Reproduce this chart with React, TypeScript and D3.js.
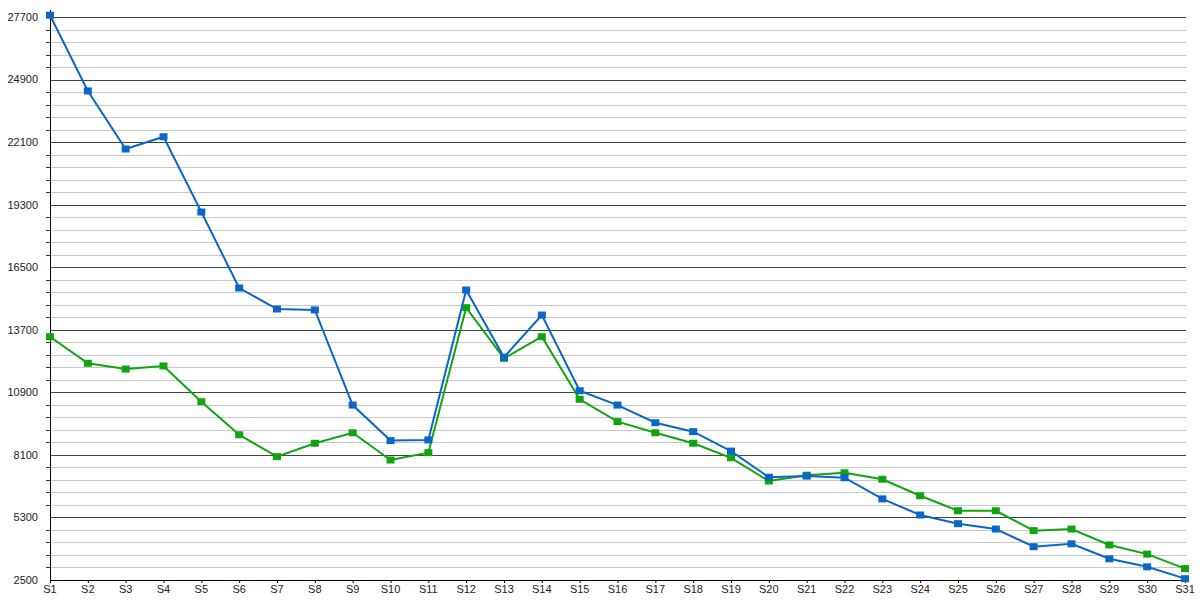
import React from "react";
import * as d3 from "d3";

const categories = Array.from({ length: 31 }, (_, i) => `S${i + 1}`);
const blueValues = [
  27780, 24390, 21790, 22340, 18970, 15570, 14630, 14590, 10330, 8740, 8770,
  15480, 12470, 14360, 10970, 10330, 9540, 9140, 8270, 7100, 7150, 7080, 6130,
  5410, 5020, 4780, 3990, 4120, 3450, 3090, 2560,
];
const greenValues = [
  13390, 12200, 11940, 12080, 10480, 9000, 8020, 8620, 9090, 7870, 8200,
  14690, 12420, 13390, 10590, 9590, 9090, 8620, 7970, 6930, 7190, 7300, 7010,
  6270, 5600, 5600, 4710, 4780, 4070, 3660, 3010,
];
const majorTicks = [2500, 5300, 8100, 10900, 13700, 16500, 19300, 22100, 24900, 27700];
const minorStep = 560;

const W = 1200;
const H = 600;
const left = 50;
const right = 1185;
const top = 17;
const bottom = 580;

export default function App() {
  const x = d3.scalePoint<string>().domain(categories).range([left, right]);
  const y = d3.scaleLinear().domain([2500, 27700]).range([bottom, top]);
  const minorTicks = d3.range(2500, 27700 + 1, minorStep).filter((v) => !majorTicks.includes(v));
  const line = d3
    .line<number>()
    .x((_, i) => x(categories[i]) as number)
    .y((d) => y(d));
  const series = [
    { values: greenValues, color: "#10a510" },
    { values: blueValues, color: "#0a66c8" },
  ];
  return (
    <svg
      width={W}
      height={H}
      style={{ position: "absolute", left: 0, top: 0, background: "#fff" }}
      fontFamily="Liberation Sans, Arial, sans-serif"
    >
      {minorTicks.map((v) => (
        <g key={"mi" + v}>
          <line x1={left} x2={right + 1} y1={Math.round(y(v)) + 0.5} y2={Math.round(y(v)) + 0.5} stroke="#c8c8c8" />
          <line x1={left - 4} x2={left} y1={Math.round(y(v)) + 0.5} y2={Math.round(y(v)) + 0.5} stroke="#333" />
        </g>
      ))}
      {majorTicks.map((v) => (
        <g key={"ma" + v}>
          <line x1={left} x2={right + 1} y1={Math.round(y(v)) + 0.5} y2={Math.round(y(v)) + 0.5} stroke={v === 2500 ? "#000" : "#444"} />
          <text x={38} y={y(v)} dy="0.35em" textAnchor="end" fontSize={11} fill="#222">
            {v}
          </text>
        </g>
      ))}
      <line x1={left + 0.5} x2={left + 0.5} y1={10} y2={bottom} stroke="#000" />
      {categories.map((c) => (
        <g key={c}>
          <line x1={(x(c) as number) + 0.5} x2={(x(c) as number) + 0.5} y1={bottom} y2={bottom + 3} stroke="#000" />
          <text x={x(c)} y={bottom + 13} textAnchor="middle" fontSize={11} fill="#222">
            {c}
          </text>
        </g>
      ))}
      {series.map((s, si) => (
        <g key={si}>
          <path d={line(s.values) || ""} fill="none" stroke={s.color} strokeWidth={2} />
          {s.values.map((v, i) => (
            <rect
              key={i}
              x={(x(categories[i]) as number) - 4}
              y={y(v) - 3.5}
              width={8}
              height={7}
              fill={s.color}
            />
          ))}
        </g>
      ))}
    </svg>
  );
}
